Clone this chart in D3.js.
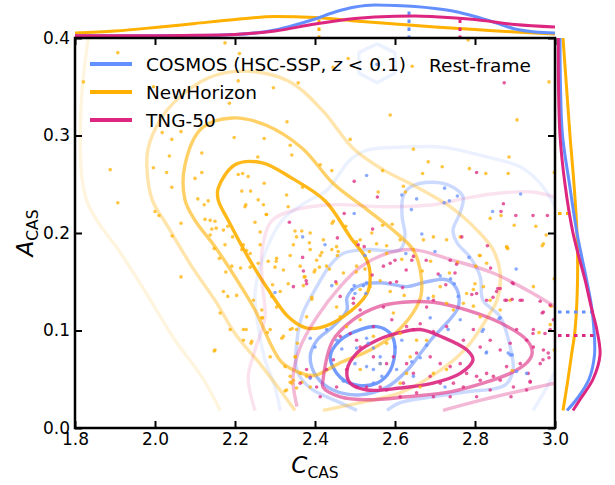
<!DOCTYPE html>
<html lang="en">
<head>
<meta charset="UTF-8">
<title>CAS plane</title>
<style>
  body { margin: 0; background: #fff; }
  svg { font-family: "DejaVu Sans", sans-serif; }
</style>
</head>
<body>
<div id="chart"></div>
<script src="https://d3js.org/d3.v7.min.js"></script>
<script>
// ---- data ----
const C_TICKS = [1.8, 2.0, 2.2, 2.4, 2.6, 2.8, 3.0];
const A_TICKS = [0.0, 0.1, 0.2, 0.3, 0.4];
const SERIES = ["COSMOS", "NewHorizon", "TNG-50"];

// scatter points [C, A]
const nhPts = [
  [2.483,0.379],[2.445,0.370],[2.643,0.371],[2.358,0.354],[2.330,0.314],[2.588,0.321],[2.488,0.296],[2.985,0.355],[2.905,0.316],[2.783,0.398],
  [1.907,0.385],[1.821,0.355],[2.175,0.395],[2.211,0.384],[2.208,0.356],[2.296,0.349],[2.186,0.333],[1.996,0.350],[2.018,0.303],[2.065,0.304],
  [2.042,0.296],[2.117,0.282],[2.257,0.278],[2.198,0.298],[2.273,0.297],[2.338,0.290],[2.342,0.280],[2.036,0.279],[1.996,0.267],[1.888,0.265],
  [2.029,0.262],[2.100,0.256],[2.117,0.262],[2.208,0.260],[2.219,0.261],[2.233,0.258],[2.273,0.251],[2.217,0.243],[2.239,0.243],[2.329,0.239],
  [2.369,0.247],[2.042,0.247],[1.907,0.231],[2.000,0.222],[2.107,0.235],[2.133,0.233],[2.123,0.229],[2.258,0.234],[2.271,0.229],[2.225,0.227],
  [2.279,0.219],[2.333,0.227],[2.350,0.202],[2.367,0.202],[2.250,0.211],[2.065,0.210],[2.125,0.214],[2.138,0.213],[2.150,0.212],[2.194,0.196],
  [2.171,0.203],[2.142,0.204],
  [2.646,0.286],[2.885,0.278],[2.683,0.273],[2.718,0.268],[2.413,0.270],[2.442,0.264],[2.569,0.264],[2.669,0.261],[2.786,0.266],[2.827,0.261],
  [2.883,0.261],[2.998,0.262],[2.558,0.242],[2.621,0.248],[2.626,0.242],[2.838,0.215],[2.865,0.218],[2.898,0.208],[2.952,0.207],[2.978,0.198],
  [2.968,0.187],[2.882,0.184],[2.811,0.177],[2.802,0.166],[2.756,0.170],[2.689,0.171],[2.617,0.173],[2.579,0.187],[2.593,0.209],[2.569,0.208],
  [2.542,0.200],[2.446,0.212],[2.443,0.210],[2.477,0.207],[2.388,0.200],[2.386,0.190],[2.413,0.177],[2.417,0.180],[2.442,0.183],[2.456,0.177],
  [2.458,0.181],[2.504,0.191],[2.536,0.181],[2.503,0.160],[2.525,0.163],[2.398,0.160],[2.400,0.162],[2.411,0.165],[2.436,0.163],[2.373,0.155],
  [2.371,0.146],[2.392,0.134],[2.538,0.145],[2.563,0.151],[2.588,0.140],[2.623,0.136],[2.668,0.161],[2.713,0.145],[2.736,0.159],[2.779,0.138],
  [2.800,0.148],[2.998,0.153],
  [2.138,0.198],[2.175,0.188],[2.192,0.166],[2.238,0.165],[2.217,0.183],[2.238,0.179],[2.263,0.188],[2.258,0.169],[2.283,0.171],[2.304,0.174],
  [2.300,0.165],[2.321,0.162],[2.338,0.177],[2.346,0.188],[2.354,0.196],[2.333,0.148],[2.313,0.140],[2.304,0.124],[2.267,0.121],[2.246,0.131],
  [2.221,0.101],[2.242,0.089],[2.288,0.073],[2.321,0.094],[2.338,0.101],[2.354,0.101],[2.267,0.113],[2.288,0.101],[2.317,0.092],[2.150,0.080],
  [2.221,0.090],[2.338,0.047],[2.342,0.046],[2.329,0.039],[2.354,0.041],[2.338,0.053],[2.188,0.101],[2.163,0.118],[2.204,0.136],[2.171,0.140],
  [2.292,0.135],[2.350,0.073],[2.325,0.063],
  [2.010,0.218],[2.043,0.197],[2.065,0.155],[2.148,0.079],[2.153,0.205],[2.182,0.207],[2.227,0.229],[2.278,0.219],[2.263,0.201],[2.161,0.174],
  [2.148,0.184],[2.177,0.160],[2.214,0.164],[2.221,0.188],[2.229,0.182],[2.182,0.135],[2.228,0.101],[2.240,0.087],[2.269,0.113],[2.281,0.098],
  [2.294,0.147],[2.303,0.171],[2.375,0.155],[2.392,0.132],[2.379,0.114],[2.343,0.102],[2.356,0.087],[2.351,0.073],[2.325,0.038],[2.367,0.047],
  [2.379,0.053],[2.388,0.042],[2.346,0.049],[2.363,0.056],[2.454,0.124],[2.463,0.114],[2.479,0.104],[2.513,0.111],[2.546,0.094],[2.579,0.087],
  [2.613,0.097],[2.679,0.090],[2.696,0.135],[2.729,0.128],[2.746,0.121],[2.771,0.128],[2.796,0.125],[2.813,0.114],[2.838,0.131],[2.863,0.121],
  [2.888,0.131],[2.946,0.145],[2.629,0.056],[2.663,0.042],[2.696,0.056],[2.729,0.060],[2.613,0.046],[2.563,0.066],[2.513,0.060],[2.654,0.090],
  [2.596,0.118],[2.638,0.073],[2.796,0.142],[2.821,0.145],[2.613,0.193],[2.646,0.183],[2.671,0.193],[2.696,0.196],[2.729,0.193],[2.763,0.196],
  [2.813,0.177],[2.829,0.169],[2.879,0.186],[2.971,0.189],[2.579,0.179],[2.513,0.193],[2.454,0.186],[2.429,0.166],[2.404,0.172],[2.363,0.166],
  [2.388,0.183],[2.421,0.193],[2.454,0.148],[2.471,0.159],[2.504,0.166],[2.554,0.189],[2.513,0.142],
  [2.880,0.185],[2.990,0.125],[2.988,0.106],[2.960,0.098],[2.998,0.080],[2.893,0.059]
];

const tngPts = [
  [2.873,0.354],[2.336,0.211],
  [2.498,0.253],[2.556,0.237],[2.804,0.262],[2.473,0.220],[2.544,0.204],[2.456,0.195],[2.508,0.188],[2.523,0.186],[2.369,0.175],[2.371,0.161],
  [2.378,0.151],[2.452,0.150],[2.543,0.157],[2.571,0.166],[2.588,0.169],[2.600,0.172],[2.628,0.162],[2.642,0.172],[2.646,0.176],[2.678,0.172],
  [2.738,0.172],[2.754,0.168],[2.750,0.159],[2.767,0.196],[2.831,0.187],[2.839,0.164],[2.871,0.230],[2.865,0.222],[2.902,0.218],[2.981,0.218],
  [2.857,0.143],[2.854,0.140],[2.893,0.149],[2.792,0.137],[2.727,0.147],[2.708,0.158],[2.604,0.150],[2.588,0.149],[2.619,0.144],[2.496,0.133],
  [2.463,0.135],[2.346,0.145],[2.388,0.052],
  [2.829,0.131],[2.879,0.131],[2.913,0.131],[2.963,0.130],[2.971,0.119],[2.988,0.126],[2.996,0.111],[2.696,0.131],[2.679,0.124],[2.571,0.124],
  [2.496,0.128],[2.513,0.121],[2.546,0.104],[2.592,0.111],[2.629,0.104],[2.646,0.101],[2.663,0.107],[2.696,0.099],[2.729,0.104],[2.771,0.090],
  [2.796,0.101],[2.813,0.083],[2.838,0.090],[2.863,0.080],[2.888,0.087],[2.904,0.101],[2.929,0.090],[2.946,0.083],[2.971,0.080],[2.983,0.077],
  [2.963,0.066],[2.913,0.066],[2.879,0.063],[2.846,0.053],[2.829,0.056],[2.813,0.049],[2.771,0.042],[2.738,0.032],[2.746,0.046],[2.713,0.046],
  [2.688,0.053],[2.646,0.056],[2.621,0.046],[2.613,0.032],[2.579,0.039],[2.563,0.042],[2.529,0.042],[2.504,0.042],[2.479,0.060],[2.454,0.042],
  [2.446,0.070],[2.429,0.060],[2.463,0.094],[2.488,0.097],[2.504,0.090],[2.513,0.083],[2.546,0.073],[2.579,0.066],[2.596,0.073],[2.629,0.066],
  [2.654,0.077],[2.688,0.073],[2.713,0.066],[2.738,0.063],[2.763,0.066],[2.779,0.056],[2.804,0.053],[2.863,0.049],[2.896,0.042],[2.929,0.039],
  [2.838,0.039],[2.804,0.032],[2.696,0.032],[2.654,0.036],[2.946,0.101],[2.988,0.101],[2.938,0.048],[2.413,0.032],[2.404,0.042],[2.363,0.046],
  [2.379,0.060],[2.379,0.148],[2.804,0.138],[2.863,0.143],[2.896,0.148],
  [2.945,0.218],[2.845,0.134],[2.875,0.131],[2.893,0.132],[2.918,0.131],[2.968,0.118],[2.945,0.097],[2.975,0.097],[2.985,0.072],[2.970,0.070],
  [2.933,0.056],[2.938,0.047],[2.890,0.032]
];

const cosmosPts = [
  [2.555,0.373],[2.369,0.196],
  [2.529,0.259],[2.617,0.239],[2.654,0.235],[2.724,0.246],[2.723,0.231],[2.736,0.233],[2.756,0.238],[2.641,0.224],[2.498,0.220],[2.425,0.188],
  [2.525,0.177],[2.627,0.179],[2.667,0.199],[2.700,0.181],[2.785,0.175],[2.844,0.222],[2.914,0.240],[2.903,0.163],[2.713,0.156],[2.739,0.153],
  [2.748,0.148],[2.758,0.135],[2.529,0.149],[2.521,0.146],[2.498,0.146],[2.492,0.142],[2.500,0.138],[2.442,0.146],[2.683,0.133],[2.527,0.138],
  [2.388,0.092],[2.400,0.083],[2.467,0.081],[2.504,0.082],[2.529,0.092],[2.546,0.082],[2.563,0.073],[2.500,0.066],[2.529,0.063],[2.546,0.060],
  [2.563,0.066],[2.567,0.053],[2.604,0.060],[2.642,0.068],[2.663,0.072],[2.688,0.113],[2.733,0.101],[2.763,0.111],[2.821,0.101],[2.863,0.113],
  [2.888,0.075],[2.904,0.058],[2.929,0.056],[2.829,0.078],[2.725,0.042],[2.646,0.053],[2.546,0.046],[2.471,0.048],[2.429,0.101],[2.454,0.090],
  [2.533,0.087],[2.600,0.083],[2.679,0.085],[2.617,0.090],[2.300,0.139],[2.388,0.051],
  [2.860,0.112],[2.818,0.099],[2.828,0.077],[2.883,0.077],[2.893,0.075]
];

// density contours [C, A], outermost level first
const nhC0 = [[1.833,0.400],[1.818,0.347],[1.813,0.295],[1.818,0.254],[1.833,0.229],[1.863,0.208],[1.908,0.183],[1.968,0.145],[2.050,0.090],[2.118,0.052],[2.163,0.018]];
const nhC1 = [[2.350,0.018],[2.318,0.036],[2.268,0.063],[2.200,0.097],[2.150,0.131],[2.093,0.165],[2.033,0.206],[1.993,0.234],[1.980,0.265],[1.983,0.287],
  [2.013,0.316],[2.050,0.335],[2.133,0.359],[2.218,0.366],[2.333,0.356],[2.418,0.326],[2.495,0.287],[2.570,0.265],[2.655,0.247],[2.738,0.227],
  [2.805,0.203],[2.845,0.183],[2.863,0.159],[2.855,0.131],[2.838,0.118],[2.780,0.083],[2.713,0.059],[2.613,0.036],[2.513,0.026],[2.420,0.018]];
const nhC2 = [[2.075,0.234],[2.075,0.270],[2.118,0.308],[2.193,0.318],[2.275,0.311],[2.368,0.287],[2.445,0.251],[2.530,0.224],[2.595,0.203],[2.645,0.183],
  [2.663,0.162],[2.665,0.136],[2.645,0.118],[2.600,0.097],[2.538,0.080],[2.463,0.067],[2.400,0.054],[2.368,0.056],[2.318,0.067],[2.293,0.083],
  [2.250,0.121],[2.200,0.155],[2.150,0.186],[2.100,0.213]];
const nhC3 = [[2.158,0.234],[2.158,0.246],[2.200,0.270],[2.268,0.272],[2.343,0.256],[2.425,0.233],[2.488,0.196],[2.530,0.172],[2.538,0.155],[2.530,0.138],
  [2.470,0.114],[2.413,0.103],[2.375,0.103],[2.333,0.114],[2.283,0.142],[2.233,0.175],[2.183,0.213]];

const cosC0a = [[2.313,0.018],[2.300,0.042],[2.275,0.070],[2.258,0.104],[2.250,0.138],[2.268,0.172],[2.318,0.213],[2.375,0.231],[2.430,0.244],[2.488,0.275],
  [2.530,0.285],[2.613,0.288],[2.720,0.288],[2.830,0.278],[2.913,0.268],[2.963,0.251],[2.995,0.231],[3.013,0.211]];
const cosC0b = [[3.013,0.070],[2.980,0.042],[2.945,0.018]];
const cosC0c = [[2.555,0.394],[2.600,0.385],[2.600,0.364],[2.555,0.354],[2.510,0.364],[2.510,0.385]];
const cosC1 = [[2.505,0.018],[2.463,0.026],[2.388,0.041],[2.355,0.059],[2.355,0.090],[2.370,0.118],[2.395,0.138],[2.438,0.167],[2.470,0.179],[2.530,0.183],
  [2.613,0.183],[2.625,0.198],[2.618,0.216],[2.620,0.237],[2.638,0.247],[2.695,0.252],[2.745,0.247],[2.770,0.237],[2.763,0.221],[2.745,0.203],
  [2.755,0.190],[2.788,0.175],[2.813,0.155],[2.820,0.131],[2.863,0.114],[2.888,0.083],[2.895,0.059],[2.875,0.044],[2.780,0.037],[2.695,0.032],
  [2.613,0.026],[2.580,0.018]];
const cosC2 = [[2.480,0.134],[2.505,0.145],[2.563,0.149],[2.630,0.145],[2.680,0.150],[2.730,0.152],[2.755,0.142],[2.758,0.124],[2.730,0.108],[2.695,0.093],
  [2.670,0.080],[2.630,0.059],[2.580,0.042],[2.513,0.034],[2.445,0.039],[2.405,0.052],[2.388,0.073],[2.405,0.090],[2.445,0.104],[2.480,0.121]];
const cosC3 = [[2.438,0.073],[2.463,0.090],[2.513,0.101],[2.555,0.104],[2.588,0.097],[2.600,0.083],[2.588,0.059],[2.555,0.046],[2.505,0.044],[2.463,0.052]];

const tngC0 = [[2.250,0.018],[2.233,0.052],[2.250,0.080],[2.275,0.114],[2.268,0.149],[2.268,0.183],[2.293,0.213],[2.363,0.225],[2.445,0.229],[2.570,0.227],
  [2.695,0.229],[2.780,0.236],[2.863,0.241],[2.945,0.242],[3.013,0.235]];
const tngC1a = [[2.355,0.022],[2.345,0.052],[2.363,0.083],[2.405,0.114],[2.463,0.145],[2.513,0.165],[2.580,0.179],[2.645,0.183],[2.745,0.172],[2.845,0.159],
  [2.945,0.138],[3.013,0.121]];
const tngC1b = [[3.013,0.047],[2.945,0.041],[2.820,0.029],[2.720,0.018]];
const tngC2 = [[2.420,0.049],[2.445,0.090],[2.495,0.111],[2.555,0.124],[2.620,0.129],[2.695,0.129],[2.780,0.121],[2.863,0.108],[2.930,0.090],[2.943,0.077],
  [2.930,0.067],[2.888,0.056],[2.820,0.046],[2.738,0.037],[2.630,0.032],[2.530,0.029],[2.463,0.032],[2.420,0.042]];
const tngC3 = [[2.480,0.059],[2.505,0.077],[2.555,0.090],[2.613,0.098],[2.663,0.101],[2.720,0.093],[2.780,0.080],[2.795,0.070],[2.763,0.056],[2.695,0.046],
  [2.613,0.041],[2.530,0.039],[2.488,0.046]];

// marginal densities (arbitrary units): top [C, density], right [A, density]
const cosmosTopKde = [[1.8,0.03],[2.0,0.03],[2.1,0.05],[2.2,0.15],[2.3,0.6],[2.35,1.1],[2.4,1.7],[2.45,2.4],[2.5,2.9],[2.55,3.1],[2.6,3.05],[2.65,2.95],
  [2.7,2.75],[2.75,2.45],[2.8,1.95],[2.85,1.35],[2.9,0.7],[2.95,0.4],[3.0,0.3]];
const nhTopKde = [[1.8,0.3],[1.9,0.5],[2.0,0.85],[2.1,1.25],[2.2,1.65],[2.3,1.95],[2.4,1.85],[2.5,1.5],[2.6,1.2],[2.7,0.9],[2.8,0.65],[2.9,0.4],[3.0,0.2]];
const tngTopKde = [[1.8,0.03],[2.0,0.03],[2.1,0.07],[2.2,0.15],[2.3,0.5],[2.4,1.2],[2.5,1.75],[2.6,1.98],[2.65,2.0],[2.7,1.93],[2.8,1.65],[2.9,1.15],[3.0,0.9]];
const cosmosRightKde = [[0.018,1.0],[0.03,2.0],[0.05,3.2],[0.075,3.75],[0.1,3.7],[0.125,3.45],[0.15,3.0],[0.2,2.0],[0.25,1.25],[0.3,0.55],[0.35,0.35],[0.4,0.3]];
const nhRightKde = [[0.018,0.6],[0.05,1.1],[0.075,1.45],[0.1,1.8],[0.15,2.05],[0.2,2.0],[0.25,1.7],[0.3,1.3],[0.35,0.95],[0.4,0.6]];
const tngRightKde = [[0.018,1.6],[0.03,2.35],[0.05,3.6],[0.075,4.3],[0.1,4.0],[0.125,3.4],[0.15,2.85],[0.2,1.6],[0.25,0.8],[0.3,0.3],[0.35,0.15],[0.4,0.13]];

// medians
const medianC = [2.635, 2.41, 2.7625];   // COSMOS, NewHorizon, TNG-50
const medianA = [0.119, 0.22, 0.095];

// ---- layout ----
const W = 615, H = 485;
const LEFT = 75, RIGHT = 555, TOP = 38, BOTTOM = 428;
const COLORS = ["#648FFF", "#FFB000", "#DC267F"];
const LEVEL_ALPHA = [0.13, 0.33, 0.6, 0.9];

const x = d3.scaleLinear().domain([1.8, 3.0]).range([LEFT, RIGHT]);
const y = d3.scaleLinear().domain([0, 0.4]).range([BOTTOM, TOP]);
const yTop = d3.scaleLinear().domain([0, 3.1]).range([36, 5]);
const xRight = d3.scaleLinear().domain([0, 4.3]).range([557, 600]);

const svg = d3.select("#chart").append("svg")
  .attr("width", W).attr("height", H);

svg.append("clipPath").attr("id", "plotclip")
  .append("rect").attr("x", LEFT).attr("y", TOP)
  .attr("width", RIGHT - LEFT).attr("height", BOTTOM - TOP);

const plot = svg.append("g").attr("clip-path", "url(#plotclip)");

// contours
const openLine = d3.line().x(d => x(d[0])).y(d => y(d[1])).curve(d3.curveCatmullRom.alpha(0.5));
const closedLine = d3.line().x(d => x(d[0])).y(d => y(d[1])).curve(d3.curveCatmullRomClosed.alpha(0.5));
const polyLine = d3.line().x(d => x(d[0])).y(d => y(d[1])).curve(d3.curveLinearClosed);

const contours = [
  { s: 0, lvl: 0, pts: cosC0a, gen: openLine },
  { s: 0, lvl: 0, pts: cosC0b, gen: openLine },
  { s: 0, lvl: 0, pts: cosC0c, gen: polyLine },
  { s: 0, lvl: 1, pts: cosC1, gen: openLine },
  { s: 0, lvl: 2, pts: cosC2, gen: closedLine },
  { s: 0, lvl: 3, pts: cosC3, gen: closedLine },
  { s: 1, lvl: 0, pts: nhC0, gen: openLine },
  { s: 1, lvl: 1, pts: nhC1, gen: openLine },
  { s: 1, lvl: 2, pts: nhC2, gen: closedLine },
  { s: 1, lvl: 3, pts: nhC3, gen: closedLine },
  { s: 2, lvl: 0, pts: tngC0, gen: openLine },
  { s: 2, lvl: 1, pts: tngC1a, gen: openLine },
  { s: 2, lvl: 1, pts: tngC1b, gen: openLine },
  { s: 2, lvl: 2, pts: tngC2, gen: closedLine },
  { s: 2, lvl: 3, pts: tngC3, gen: closedLine }
];

plot.selectAll("path.contour")
  .data(contours)
  .enter()
  .append("path")
  .attr("class", "contour")
  .attr("d", c => c.gen(c.pts))
  .attr("fill", "none")
  .attr("stroke", c => COLORS[c.s])
  .attr("stroke-opacity", c => LEVEL_ALPHA[c.lvl])
  .attr("stroke-width", 3.4)
  .attr("stroke-linejoin", "round")
  .attr("stroke-linecap", "butt");

// scatter
[[nhPts, 1], [tngPts, 2], [cosmosPts, 0]].forEach(([pts, s]) => {
  plot.append("g").selectAll("circle")
    .data(pts)
    .enter()
    .append("circle")
    .attr("cx", d => x(d[0]))
    .attr("cy", d => y(d[1]))
    .attr("r", 1.8)
    .attr("fill", COLORS[s])
    .attr("fill-opacity", 0.75);
});

// marginal kdes
const topLine = d3.line().x(d => x(d[0])).y(d => yTop(d[1])).curve(d3.curveMonotoneX);
const rightLine = d3.line().x(d => xRight(d[1])).y(d => y(d[0])).curve(d3.curveCatmullRom.alpha(0.5));
const topKdes = [cosmosTopKde, nhTopKde, tngTopKde];
const rightKdes = [cosmosRightKde, nhRightKde, tngRightKde];

function valueAt(table, v) {
  for (let i = 1; i < table.length; i++) {
    if (v <= table[i][0]) {
      const a = table[i - 1], b = table[i];
      const t = (v - a[0]) / (b[0] - a[0]);
      return a[1] + t * (b[1] - a[1]);
    }
  }
  return table[table.length - 1][1];
}

const margOrder = [1, 0, 2];
margOrder.forEach(s => {
  svg.append("path")
    .attr("d", topLine(topKdes[s]))
    .attr("fill", "none")
    .attr("stroke", COLORS[s])
    .attr("stroke-width", 3);
  svg.append("path")
    .attr("d", rightLine(rightKdes[s]))
    .attr("fill", "none")
    .attr("stroke", COLORS[s])
    .attr("stroke-width", 3);
  // median markers
  svg.append("line")
    .attr("x1", x(medianC[s])).attr("x2", x(medianC[s]))
    .attr("y1", yTop(0) + 3).attr("y2", yTop(valueAt(topKdes[s], medianC[s])))
    .attr("stroke", COLORS[s]).attr("stroke-width", 3)
    .attr("stroke-dasharray", "3.5,4.5");
  svg.append("line")
    .attr("y1", y(medianA[s])).attr("y2", y(medianA[s]))
    .attr("x1", xRight(0) + 1).attr("x2", xRight(valueAt(rightKdes[s], medianA[s])))
    .attr("stroke", COLORS[s]).attr("stroke-width", 3)
    .attr("stroke-dasharray", "3.5,4.5");
});

// axes
function styleAxis(g) {
  g.select(".domain").remove();
  g.selectAll(".tick line").attr("stroke", "#000").attr("stroke-width", 2);
  g.selectAll(".tick text").attr("fill", "#000").style("font-size", "17px")
    .style("font-family", "DejaVu Sans, sans-serif");
}

svg.append("g")
  .attr("transform", `translate(0,${BOTTOM})`)
  .call(d3.axisBottom(x).tickValues(C_TICKS).tickFormat(d3.format(".1f"))
    .tickSizeInner(-7).tickSizeOuter(0).tickPadding(5))
  .call(styleAxis);

svg.append("g")
  .attr("transform", `translate(${LEFT},0)`)
  .call(d3.axisLeft(y).tickValues(A_TICKS).tickFormat(d3.format(".1f"))
    .tickSizeInner(-7).tickSizeOuter(0).tickPadding(5))
  .call(styleAxis);

svg.append("g")
  .attr("transform", `translate(0,${TOP})`)
  .call(d3.axisTop(x).tickValues(C_TICKS).tickFormat("")
    .tickSizeInner(-7).tickSizeOuter(0))
  .call(styleAxis);

svg.append("g")
  .attr("transform", `translate(${RIGHT},0)`)
  .call(d3.axisRight(y).tickValues(A_TICKS).tickFormat("")
    .tickSizeInner(-7).tickSizeOuter(0))
  .call(styleAxis);

svg.append("rect")
  .attr("x", LEFT).attr("y", TOP)
  .attr("width", RIGHT - LEFT).attr("height", BOTTOM - TOP)
  .attr("fill", "none").attr("stroke", "#000").attr("stroke-width", 2.5);

// axis labels
const xl = svg.append("text")
  .attr("x", (LEFT + RIGHT) / 2).attr("y", 473)
  .attr("text-anchor", "middle");
xl.append("tspan").text("C").style("font-style", "italic").style("font-size", "23px");
xl.append("tspan").text("CAS").style("font-size", "15.5px").attr("dy", 5);

const yl = svg.append("text")
  .attr("transform", `translate(33,${(TOP + BOTTOM) / 2}) rotate(-90)`)
  .attr("text-anchor", "middle");
yl.append("tspan").text("A").style("font-style", "italic").style("font-size", "23px");
yl.append("tspan").text("CAS").style("font-size", "15.5px").attr("dy", 5);

// legend
const legend = svg.append("g").style("font-size", "18.5px");
SERIES.forEach((name, i) => {
  const ly = 64 + i * 28;
  legend.append("line")
    .attr("x1", 90).attr("x2", 132).attr("y1", ly).attr("y2", ly)
    .attr("stroke", COLORS[i]).attr("stroke-width", 4);
  const t = legend.append("text").attr("x", 146).attr("y", ly + 6.5).attr("fill", "#000");
  if (i === 0) {
    t.append("tspan").text("COSMOS (HSC-SSP, ");
    t.append("tspan").text("z").style("font-style", "italic");
    t.append("tspan").text(" < 0.1)");
  } else {
    t.text(name);
  }
});

svg.append("text")
  .attr("x", 429).attr("y", 72)
  .style("font-size", "18.5px")
  .text("Rest-frame");
</script>
</body>
</html>
